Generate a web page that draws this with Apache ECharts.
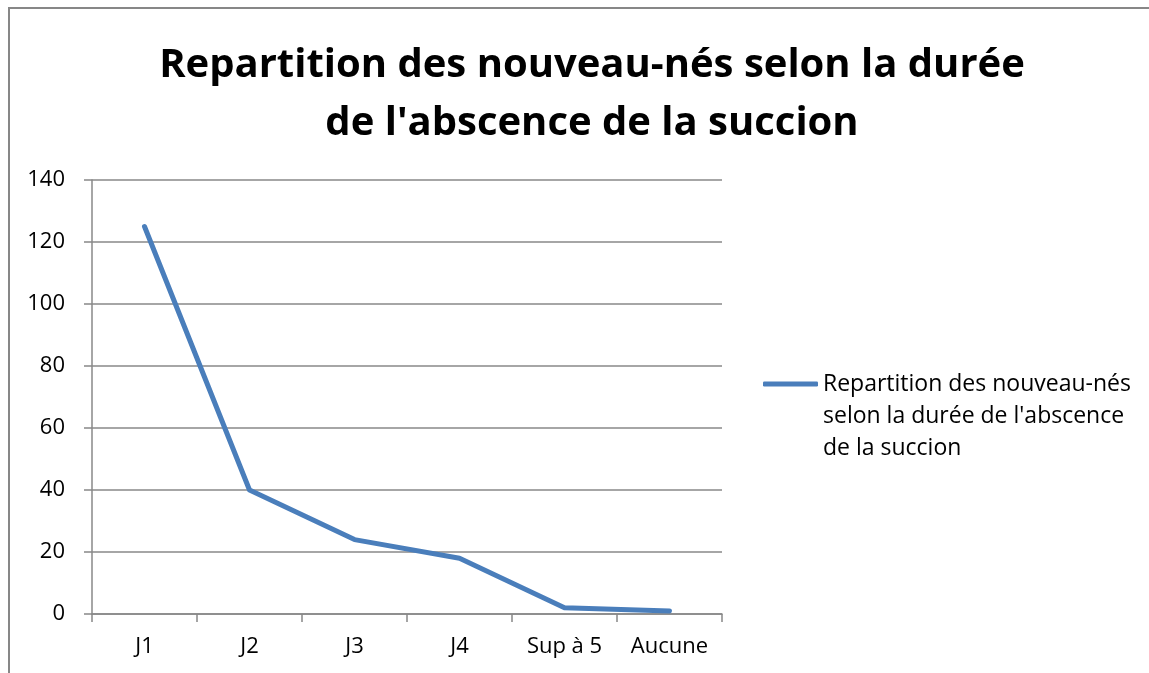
<!DOCTYPE html>
<html>
<head>
<meta charset="utf-8">
<script src="https://cdn.jsdelivr.net/npm/echarts@6/dist/echarts.min.js"></script>
<style>
html,body{margin:0;padding:0;background:#fff;}
#chart{width:1149px;height:673px;}
</style>
</head>
<body>
<div id="chart"></div>
<script>
const titleText = "Repartition des nouveau-nés selon la durée\nde l'abscence de la succion";
const seriesName = "Repartition des nouveau-nés selon la durée de l'abscence de la succion";
const legendLabel = "\n\nRepartition des nouveau-nés\nselon la durée de l'abscence\nde la succion";
const categories = ["J1", "J2", "J3", "J4", "Sup à 5", "Aucune"];
const values = [125, 40, 24, 18, 2, 1];
const yMin = 0, yMax = 140, yStep = 20;

const FONT = "'Open Sans', sans-serif";
const chart = echarts.init(document.getElementById('chart'));
chart.setOption({
  backgroundColor: '#fff',
  animation: false,
  title: {
    text: titleText,
    left: 587,
    top: 32,
    textAlign: 'center',
    textStyle: {fontFamily: FONT, fontSize: 40, fontWeight: 'bold', color: '#000', lineHeight: 58}
  },
  graphic: [{
    type: 'rect', silent: true, z: -1,
    shape: {x: 9, y: 8, width: 1300, height: 900},
    style: {fill: 'none', stroke: '#878787', lineWidth: 2}
  }],
  legend: {
    show: true,
    left: 763,
    top: 304,
    padding: 0,
    orient: 'vertical',
    itemWidth: 55,
    itemHeight: 5,
    itemGap: 0,
    icon: 'roundRect',
    data: [{name: seriesName}],
    formatter: function(){ return legendLabel; },
    textStyle: {fontFamily: FONT, fontSize: 23, color: '#000', lineHeight: 32}
  },
  grid: {left: 92, right: 427, top: 180, bottom: 59, containLabel: false},
  xAxis: {
    type: 'category',
    data: categories,
    boundaryGap: true,
    axisLine: {lineStyle: {color: '#888888', width: 1.5}},
    axisTick: {show: true, length: 8, lineStyle: {color: '#888888', width: 1.5}},
    axisLabel: {fontFamily: FONT, fontSize: 22, color: '#000', margin: 22}
  },
  yAxis: {
    type: 'value',
    min: yMin, max: yMax, interval: yStep,
    axisLine: {show: true, lineStyle: {color: '#888888', width: 1.5}},
    axisTick: {show: true, length: 8, lineStyle: {color: '#888888', width: 1.5}},
    axisLabel: {fontFamily: FONT, fontSize: 22, color: '#000', margin: 27},
    splitLine: {show: true, lineStyle: {color: '#888888', width: 1.5}}
  },
  series: [{
    name: seriesName,
    type: 'line',
    data: values,
    symbol: 'none',
    lineStyle: {color: '#4A7EBB', width: 5, cap: 'round', join: 'round'},
    itemStyle: {color: '#4A7EBB'}
  }]
});
</script>
</body>
</html>
